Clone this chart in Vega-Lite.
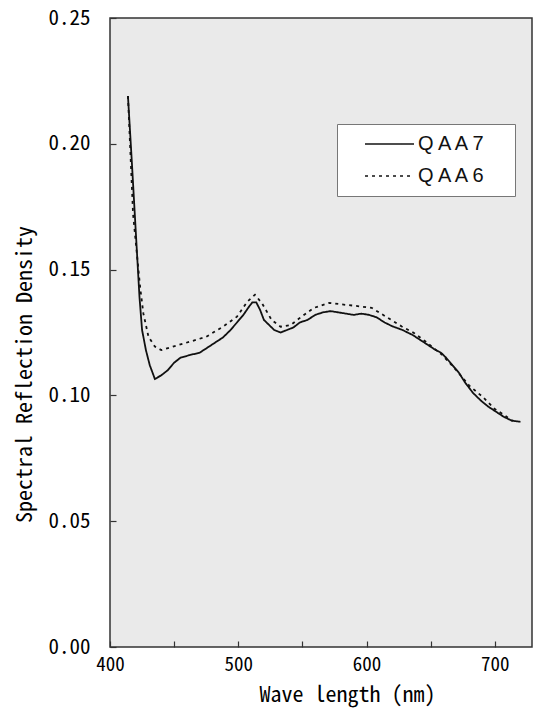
{
  "$schema": "https://vega.github.io/schema/vega-lite/v6.json",
  "width": 422,
  "height": 629,
  "autosize": {"type": "none"},
  "padding": {"left": 110, "top": 18, "right": 8, "bottom": 64},
  "background": "white",
  "config": {
    "view": {"fill": "#eaeaea", "stroke": "#333", "strokeWidth": 1.5}
  },
  "data": {
    "values": [
      {"wl": 414, "v": 0.219, "s": "QAA7"},
      {"wl": 417, "v": 0.193, "s": "QAA7"},
      {"wl": 420, "v": 0.166, "s": "QAA7"},
      {"wl": 423, "v": 0.139, "s": "QAA7"},
      {"wl": 425, "v": 0.126, "s": "QAA7"},
      {"wl": 428, "v": 0.118, "s": "QAA7"},
      {"wl": 431, "v": 0.112, "s": "QAA7"},
      {"wl": 435, "v": 0.1065, "s": "QAA7"},
      {"wl": 440, "v": 0.108, "s": "QAA7"},
      {"wl": 445, "v": 0.110, "s": "QAA7"},
      {"wl": 450, "v": 0.113, "s": "QAA7"},
      {"wl": 455, "v": 0.115, "s": "QAA7"},
      {"wl": 462, "v": 0.116, "s": "QAA7"},
      {"wl": 470, "v": 0.117, "s": "QAA7"},
      {"wl": 476, "v": 0.119, "s": "QAA7"},
      {"wl": 482, "v": 0.121, "s": "QAA7"},
      {"wl": 488, "v": 0.123, "s": "QAA7"},
      {"wl": 494, "v": 0.126, "s": "QAA7"},
      {"wl": 499, "v": 0.129, "s": "QAA7"},
      {"wl": 504, "v": 0.132, "s": "QAA7"},
      {"wl": 508, "v": 0.135, "s": "QAA7"},
      {"wl": 511, "v": 0.137, "s": "QAA7"},
      {"wl": 514, "v": 0.137, "s": "QAA7"},
      {"wl": 517, "v": 0.134, "s": "QAA7"},
      {"wl": 520, "v": 0.130, "s": "QAA7"},
      {"wl": 524, "v": 0.128, "s": "QAA7"},
      {"wl": 528, "v": 0.126, "s": "QAA7"},
      {"wl": 533, "v": 0.125, "s": "QAA7"},
      {"wl": 538, "v": 0.126, "s": "QAA7"},
      {"wl": 543, "v": 0.127, "s": "QAA7"},
      {"wl": 548, "v": 0.129, "s": "QAA7"},
      {"wl": 554, "v": 0.130, "s": "QAA7"},
      {"wl": 560, "v": 0.132, "s": "QAA7"},
      {"wl": 566, "v": 0.133, "s": "QAA7"},
      {"wl": 572, "v": 0.1335, "s": "QAA7"},
      {"wl": 578, "v": 0.133, "s": "QAA7"},
      {"wl": 584, "v": 0.1325, "s": "QAA7"},
      {"wl": 590, "v": 0.132, "s": "QAA7"},
      {"wl": 596, "v": 0.1325, "s": "QAA7"},
      {"wl": 602, "v": 0.132, "s": "QAA7"},
      {"wl": 608, "v": 0.131, "s": "QAA7"},
      {"wl": 614, "v": 0.129, "s": "QAA7"},
      {"wl": 620, "v": 0.1275, "s": "QAA7"},
      {"wl": 628, "v": 0.126, "s": "QAA7"},
      {"wl": 636, "v": 0.124, "s": "QAA7"},
      {"wl": 642, "v": 0.122, "s": "QAA7"},
      {"wl": 648, "v": 0.120, "s": "QAA7"},
      {"wl": 654, "v": 0.118, "s": "QAA7"},
      {"wl": 658, "v": 0.117, "s": "QAA7"},
      {"wl": 662, "v": 0.115, "s": "QAA7"},
      {"wl": 667, "v": 0.112, "s": "QAA7"},
      {"wl": 672, "v": 0.109, "s": "QAA7"},
      {"wl": 677, "v": 0.105, "s": "QAA7"},
      {"wl": 683, "v": 0.101, "s": "QAA7"},
      {"wl": 689, "v": 0.098, "s": "QAA7"},
      {"wl": 695, "v": 0.0955, "s": "QAA7"},
      {"wl": 701, "v": 0.0935, "s": "QAA7"},
      {"wl": 707, "v": 0.0915, "s": "QAA7"},
      {"wl": 713, "v": 0.0900, "s": "QAA7"},
      {"wl": 720, "v": 0.0895, "s": "QAA7"},
      {"wl": 414, "v": 0.219, "s": "QAA6"},
      {"wl": 418, "v": 0.172, "s": "QAA6"},
      {"wl": 421, "v": 0.156, "s": "QAA6"},
      {"wl": 423.5, "v": 0.143, "s": "QAA6"},
      {"wl": 426, "v": 0.1326, "s": "QAA6"},
      {"wl": 430, "v": 0.1233, "s": "QAA6"},
      {"wl": 435, "v": 0.1194, "s": "QAA6"},
      {"wl": 440, "v": 0.118, "s": "QAA6"},
      {"wl": 449, "v": 0.1194, "s": "QAA6"},
      {"wl": 462, "v": 0.1213, "s": "QAA6"},
      {"wl": 475, "v": 0.1233, "s": "QAA6"},
      {"wl": 488, "v": 0.1273, "s": "QAA6"},
      {"wl": 499, "v": 0.1313, "s": "QAA6"},
      {"wl": 507, "v": 0.1372, "s": "QAA6"},
      {"wl": 513, "v": 0.140, "s": "QAA6"},
      {"wl": 518.5, "v": 0.1366, "s": "QAA6"},
      {"wl": 526, "v": 0.130, "s": "QAA6"},
      {"wl": 533, "v": 0.1273, "s": "QAA6"},
      {"wl": 541, "v": 0.128, "s": "QAA6"},
      {"wl": 548, "v": 0.1308, "s": "QAA6"},
      {"wl": 559, "v": 0.1348, "s": "QAA6"},
      {"wl": 571, "v": 0.1368, "s": "QAA6"},
      {"wl": 580, "v": 0.1362, "s": "QAA6"},
      {"wl": 593, "v": 0.1355, "s": "QAA6"},
      {"wl": 604, "v": 0.1348, "s": "QAA6"},
      {"wl": 614.5, "v": 0.1315, "s": "QAA6"},
      {"wl": 627.5, "v": 0.1274, "s": "QAA6"},
      {"wl": 637, "v": 0.1248, "s": "QAA6"},
      {"wl": 646, "v": 0.1214, "s": "QAA6"},
      {"wl": 659, "v": 0.1161, "s": "QAA6"},
      {"wl": 670, "v": 0.110, "s": "QAA6"},
      {"wl": 680, "v": 0.1039, "s": "QAA6"},
      {"wl": 691, "v": 0.0992, "s": "QAA6"},
      {"wl": 700, "v": 0.0946, "s": "QAA6"},
      {"wl": 708, "v": 0.092, "s": "QAA6"},
      {"wl": 714, "v": 0.0898, "s": "QAA6"}
    ]
  },
  "mark": {"type": "line", "color": "#111", "strokeWidth": 1.8, "clip": true},
  "encoding": {
    "x": {
      "field": "wl", "type": "quantitative",
      "scale": {"domain": [400, 729], "nice": false, "zero": false},
      "axis": {
        "values": [400, 450, 500, 550, 600, 650, 700],
        "labelExpr": "datum.value % 100 == 0 ? datum.label : ''",
        "labelFlush": false,
        "domain": false, "grid": false,
        "tickSize": -6, "tickColor": "#333", "tickWidth": 1.2,
        "labelPadding": 14, "labelFontSize": 19, "labelColor": "#000",
        "labelFont": "Noto Sans Mono CJK JP",
        "title": "Wave length (nm)", "titleFont": "Noto Sans Mono CJK JP",
        "titleFontSize": 22, "titleFontWeight": "normal", "titleColor": "#000",
        "titleX": 237, "titleY": 47.5, "titleBaseline": "middle", "titleAlign": "center"
      }
    },
    "y": {
      "field": "v", "type": "quantitative",
      "scale": {"domain": [0, 0.25], "nice": false},
      "axis": {
        "values": [0, 0.05, 0.1, 0.15, 0.2, 0.25],
        "format": ".2f",
        "labelFlush": false,
        "domain": false, "grid": false,
        "tickSize": -6, "tickColor": "#333", "tickWidth": 1.2,
        "labelPadding": 26, "labelFontSize": 21, "labelColor": "#000",
        "labelFont": "Noto Sans Mono CJK JP",
        "title": "Spectral Reflection Density", "titleFont": "Noto Sans Mono CJK JP",
        "titleFontSize": 22, "titleFontWeight": "normal", "titleColor": "#000",
        "titleX": -86, "titleY": 356, "titleAngle": -90, "titleBaseline": "middle", "titleAlign": "center"
      }
    },
    "strokeDash": {
      "field": "s", "type": "nominal",
      "scale": {"domain": ["QAA7", "QAA6"], "range": [[1, 0], [3, 4]]},
      "legend": {
        "orient": "none", "legendX": 227, "legendY": 106,
        "title": null,
        "fillColor": "white", "strokeColor": "#777",
        "padding": 10,
        "clipHeight": 20,
        "symbolType": "stroke", "symbolSize": 2400, "symbolStrokeWidth": 1.6,
        "symbolStrokeColor": "#111", "symbolOffset": 17,
        "labelFont": "Liberation Sans", "labelFontSize": 20, "labelColor": "#111",
        "labelOffset": 3, "rowPadding": 12,
        "labelExpr": "join(split(datum.label, ''), ' ') + '\u00a0\u00a0\u00a0\u200b'"
      }
    }
  }
}
